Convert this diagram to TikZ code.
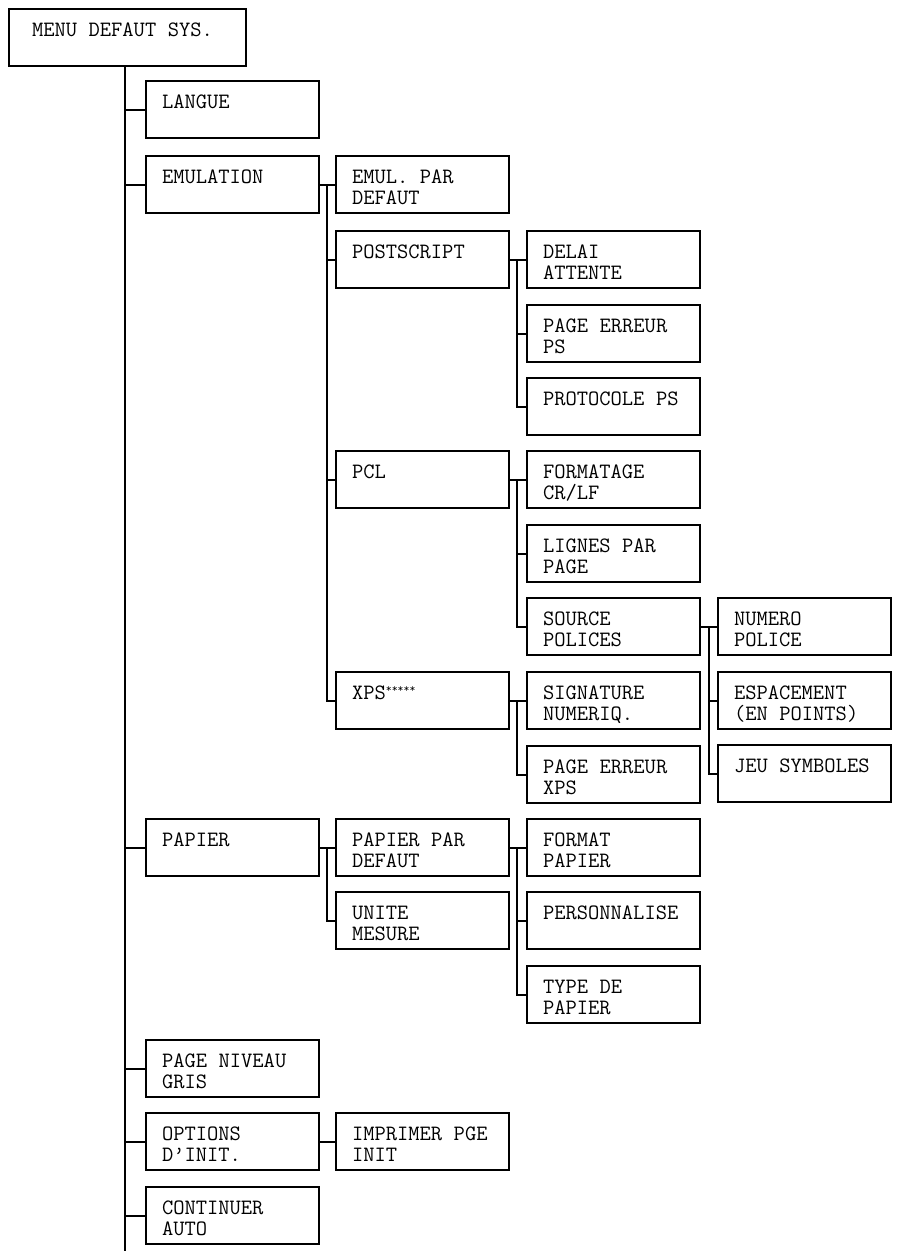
\documentclass[tikz,border=0pt]{standalone}
\usepackage{tikz}

\begin{document}
\begin{tikzpicture}[
    x=1pt, y=-1pt,
    itm/.style={draw, line width=2pt, anchor=north west, minimum width=173pt, minimum height=57pt,
        inner xsep=16pt, inner ysep=0pt, text width=141pt, align=left,
        text height=27pt, text depth=30pt, font=\ttfamily\fontsize{21.9}{21}\selectfont,
        execute at begin node={\frenchspacing\spaceskip=11.5pt\relax}},
    rootitm/.style={itm, minimum width=237pt, inner xsep=23pt, text width=191pt},
    ln/.style={line width=2pt}
]
\useasboundingbox (0,0) rectangle (901,1254);

% trunks (only x is used)
\coordinate (t0) at (125,1251);
\coordinate (t1) at (327,0);
\coordinate (t2) at (517,0);
\coordinate (t3) at (709,0);

\node[rootitm] (root) at (8,8) {MENU DEFAUT SYS.};
\node[itm] (langue) at (145,80) {LANGUE};
\node[itm] (emul) at (145,155) {EMULATION};
\node[itm] (emuldef) at (335,155) {EMUL. PAR\\DEFAUT};
\node[itm] (ps) at (335,230) {POSTSCRIPT};
\node[itm] (delai) at (526,230) {DELAI\\ATTENTE};
\node[itm] (errps) at (526,304) {PAGE ERREUR\\PS};
\node[itm] (proto) at (526,377) {PROTOCOLE PS};
\node[itm] (pcl) at (335,450) {PCL};
\node[itm] (crlf) at (526,450) {FORMATAGE\\CR/LF};
\node[itm] (lignes) at (526,524) {LIGNES PAR\\PAGE};
\node[itm] (source) at (526,597) {SOURCE\\POLICES};
\node[itm] (numero) at (717,597) {NUMERO\\POLICE};
\node[itm] (espace) at (717,671) {ESPACEMENT\\(EN POINTS)};
\node[itm] (jeu) at (717,744) {JEU SYMBOLES};
\node[itm] (xps) at (335,671) {XPS\raisebox{7pt}{\fontsize{11.5}{11}\selectfont *****}};
\node[itm] (signat) at (526,671) {SIGNATURE\\NUMERIQ.};
\node[itm] (errxps) at (526,745) {PAGE ERREUR\\XPS};
\node[itm] (papier) at (145,818) {PAPIER};
\node[itm] (papdef) at (335,818) {PAPIER PAR\\DEFAUT};
\node[itm] (unite) at (335,891) {UNITE\\MESURE};
\node[itm] (format) at (526,818) {FORMAT\\PAPIER};
\node[itm] (perso) at (526,891) {PERSONNALISE};
\node[itm] (type) at (526,965) {TYPE DE\\PAPIER};
\node[itm] (gris) at (145,1039) {PAGE NIVEAU\\GRIS};
\node[itm] (init) at (145,1112) {OPTIONS\\D’INIT.};
\node[itm] (imprim) at (335,1112) {IMPRIMER PGE\\INIT};
\node[itm] (auto) at (145,1186) {CONTINUER\\AUTO};

% main trunk
\draw[ln] (root.south -| t0) -- (t0);
\draw[ln] (langue.west -| t0) -- (langue.west);
\draw[ln] (emul.west -| t0) -- (emul.west);
\draw[ln] (papier.west -| t0) -- (papier.west);
\draw[ln] (gris.west -| t0) -- (gris.west);
\draw[ln] (init.west -| t0) -- (init.west);
\draw[ln] (auto.west -| t0) -- (auto.west);

% emulation
\draw[ln] (emul.east) -- (emuldef.west);
\draw[ln] (emul.east -| t1) |- (xps.west);
\draw[ln] (ps.west -| t1) -- (ps.west);
\draw[ln] (pcl.west -| t1) -- (pcl.west);

\draw[ln] (ps.east) -- (delai.west);
\draw[ln] (ps.east -| t2) |- (proto.west);
\draw[ln] (errps.west -| t2) -- (errps.west);

\draw[ln] (pcl.east) -- (crlf.west);
\draw[ln] (pcl.east -| t2) |- (source.west);
\draw[ln] (lignes.west -| t2) -- (lignes.west);

\draw[ln] (source.east) -- (numero.west);
\draw[ln] (source.east -| t3) |- (jeu.west);
\draw[ln] (espace.west -| t3) -- (espace.west);

\draw[ln] (xps.east) -- (signat.west);
\draw[ln] (xps.east -| t2) |- (errxps.west);

% papier
\draw[ln] (papier.east) -- (papdef.west);
\draw[ln] (papier.east -| t1) |- (unite.west);
\draw[ln] (papdef.east) -- (format.west);
\draw[ln] (papdef.east -| t2) |- (type.west);
\draw[ln] (perso.west -| t2) -- (perso.west);

% options
\draw[ln] (init.east) -- (imprim.west);
\end{tikzpicture}
\end{document}
